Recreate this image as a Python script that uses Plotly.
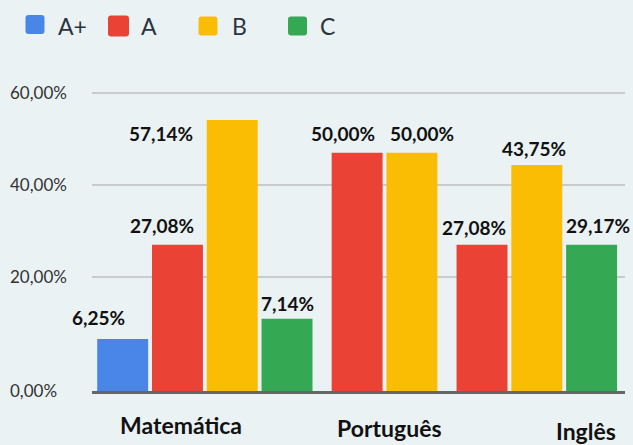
import plotly.graph_objects as go

# ---------------- data ----------------
subjects = ["Matemática", "Português", "Inglês"]
grades = ["A+", "A", "B", "C"]

# bar heights as drawn (percent); None = no bar for that subject
val_aplus = [6.5, None, None]
val_a = [27.0, 47.0, 27.0]
val_b = [54.1, 47.0, 44.3]
val_c = [10.9, None, 27.0]

# printed value labels
lbl_aplus = ["6,25%", None, None]
lbl_a = ["27,08%", "50,00%", "27,08%"]
lbl_b = ["57,14%", "50,00%", "43,75%"]
lbl_c = ["7,14%", None, "29,17%"]

y_ticks = [0, 20, 40, 60]
y_tick_labels = ["0,00%", "20,00%", "40,00%", "60,00%"]

# ---------------- style ----------------
colors = {"A+": "#4A86E8", "A": "#EA4335", "B": "#FBBC04", "C": "#34A853"}
BG = "#EAF2F4"
FONT = "Lato"
W, H = 633, 445
ML, MR, MT, MB = 6, 8, 79, 54
PLOT_X0, PLOT_X1 = 92, 625
FLOOR = -4.8          # axis floor sits a little below zero
GROUP_GAP = 0.28
BAR_W = 0.93
# label offsets (px) in drawing order
LABEL_SHIFT = [(-24, 22), (-15, 19), (-71, -14), (0, 15),
               (-14, 19), (10, 19),
               (-8, 17), (-3, 17), (6, 19)]

series_vals = {"A+": val_aplus, "A": val_a, "B": val_b, "C": val_c}
series_lbls = {"A+": lbl_aplus, "A": lbl_a, "B": lbl_b, "C": lbl_c}

# packed bar positions: one slot per present bar, small gap between subjects
pos = {g: [] for g in grades}
bars_in_order = []
k = 0
for si, s in enumerate(subjects):
    for g in grades:
        v = series_vals[g][si]
        if v is not None:
            x = k + si * GROUP_GAP
            pos[g].append((x, v, series_lbls[g][si]))
            bars_in_order.append((x, v, series_lbls[g][si]))
            k += 1

fig = go.Figure()
for g in grades:
    xs = [p[0] for p in pos[g]]
    ys = [p[1] - FLOOR for p in pos[g]]
    fig.add_trace(go.Bar(
        x=xs, y=ys, base=FLOOR, width=BAR_W, name=g,
        marker=dict(color=colors[g], line=dict(width=0)),
        showlegend=False, hoverinfo="skip",
    ))

annotations = []
for (x, v, t), (dx, dy) in zip(bars_in_order, LABEL_SHIFT):
    annotations.append(dict(
        x=x, y=v, xref="x", yref="y", text=t, showarrow=False,
        xshift=dx, yshift=dy, xanchor="center", yanchor="middle",
        font=dict(family=FONT, size=19, color="#111111", weight="bold"),
    ))

pw = W - ML - MR
ph = H - MT - MB
def px2paper(px, py):
    return (px - ML) / pw, (H - MB - py) / ph

# subject labels
for s, (cx, cy) in zip(subjects, [(181, 425), (389.5, 428), (586, 430.5)]):
    ax, ay = px2paper(cx, cy)
    annotations.append(dict(
        x=ax, y=ay, xref="paper", yref="paper", text=s, showarrow=False,
        xanchor="center", yanchor="middle",
        font=dict(family=FONT, size=23, color="#111111", weight="bold"),
    ))

# floor tick label (sits on the axis line)
zx, zy = px2paper(8, 390)
annotations.append(dict(
    x=zx, y=zy, xref="paper", yref="paper", text=y_tick_labels[0],
    showarrow=False, xanchor="left", yanchor="middle",
    font=dict(family=FONT, size=17, color="#333333"),
))

# manual legend
shapes = []
leg_sq = [(35, 24.5, 19), (118.5, 26, 21), (208, 26, 19), (297.5, 26, 19)]
leg_tx = [56, 139, 230, 318]
for g, (cx, cy, s), tx in zip(grades, leg_sq, leg_tx):
    ax, ay = px2paper(cx, cy)
    h = s / 2
    r = 3
    path = (f"M {-h + r},{-h} H {h - r} Q {h},{-h} {h},{-h + r} V {h - r} "
            f"Q {h},{h} {h - r},{h} H {-h + r} Q {-h},{h} {-h},{h - r} "
            f"V {-h + r} Q {-h},{-h} {-h + r},{-h} Z")
    shapes.append(dict(type="path", xref="paper", yref="paper",
                       xsizemode="pixel", ysizemode="pixel",
                       xanchor=ax, yanchor=ay, path=path,
                       fillcolor=colors[g], line=dict(width=0)))
    tx_p, ty_p = px2paper(tx, 26)
    annotations.append(dict(
        x=tx_p, y=ty_p, xref="paper", yref="paper", text=g, showarrow=False,
        xanchor="left", yanchor="middle",
        font=dict(family=FONT, size=23, color="#2B3440"),
    ))

x_lo = -0.56
x_hi = (k - 1) + (len(subjects) - 1) * GROUP_GAP + 0.61
dom0 = (PLOT_X0 - ML) / pw
dom1 = (PLOT_X1 - ML) / pw

fig.update_layout(
    width=W, height=H,
    margin=dict(l=ML, r=MR, t=MT, b=MB),
    paper_bgcolor=BG, plot_bgcolor=BG,
    barmode="overlay",
    showlegend=False,
    annotations=annotations,
    shapes=shapes,
    xaxis=dict(domain=[dom0, min(dom1, 1.0)], range=[x_lo, x_hi],
               showticklabels=False, showgrid=False, zeroline=False,
               showline=True, linecolor="#666666", linewidth=3, ticks=""),
    yaxis=dict(range=[FLOOR, 63], anchor="free", position=0,
               tickvals=[t for t in y_ticks if t != 0],
               ticktext=[l for t, l in zip(y_ticks, y_tick_labels) if t != 0],
               ticklabelposition="inside",
               showgrid=True, gridcolor="#C9CCCE", gridwidth=2,
               zeroline=False, showline=False, ticks="",
               tickfont=dict(family=FONT, size=17, color="#333333")),
)

fig.write_html("out.html", config={"displayModeBar": False},
               post_script="document.body.style.margin='0';")
